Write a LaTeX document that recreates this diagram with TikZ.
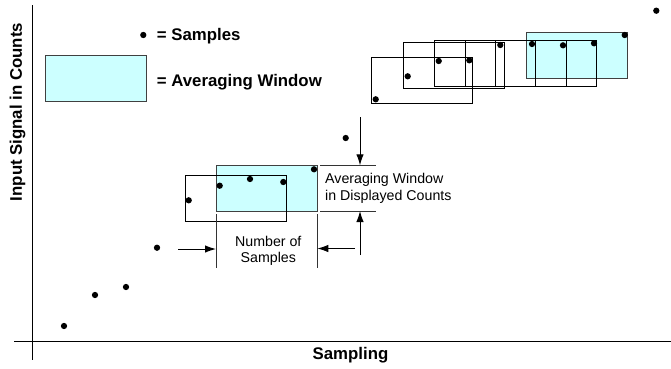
\documentclass[tikz,border=0pt]{standalone}
\usepackage{fontspec}
\setmainfont{Liberation Sans}
\usetikzlibrary{arrows.meta}
\definecolor{wincyan}{HTML}{CCFFFF}
\begin{document}
\begin{tikzpicture}[x=1pt,y=-1pt,
  win/.style={draw=black, line width=0.9pt, minimum width=101pt, minimum height=46pt, inner sep=0pt, outer sep=0pt, anchor=north west},
  cwin/.style={win, fill=wincyan, draw=black!75},
  dot/.style={circle, fill=black, inner sep=0pt, minimum size=6.3pt},
  axis/.style={line width=1.4pt},
  dim/.style={line width=0.7pt, draw=black!80},
  arr/.style={line width=1pt, -{Latex[length=11pt,width=7.5pt]}},
  boldtxt/.style={font=\fontsize{16.8}{20}\selectfont\bfseries, inner sep=0pt},
  lbl/.style={font=\fontsize{14.2}{17}\selectfont, inner sep=0pt}
]
\useasboundingbox (0,0) rectangle (671,368);
% axes
\coordinate (yt) at (32.5,5);
\coordinate (yb) at (32.5,360);
\coordinate (xl) at (14,341.5);
\coordinate (xr) at (671,341.5);
\draw[axis] (yt) -- (yb);
\draw[axis] (xl) -- (xr);
\node[boldtxt, rotate=90] (ylab) at (17.5,112) {Input Signal in Counts};
\node[boldtxt, anchor=base] (xlab) at (350.5,359) {Sampling};
% legend
\node[dot] (ldot) at (143.3,35) {};
\node[boldtxt, anchor=base west] (lsam) at (156.7,40.5) {= Samples};
\node[cwin] (lwin) at (45,55.7) {};
\node[boldtxt, anchor=base west] (lavg) at (156.7,86) {= Averaging Window};
% lower window group
\node[cwin] (wa2) at (216,165.3) {};
\node[win] (wa1) at (185.3,175) {};
% upper window group
\node[cwin] (wb6) at (526.7,32) {};
\node[win] (wb1) at (371.7,57.3) {};
\node[win] (wb2) at (403.3,42.3) {};
\node[win] (wb3) at (434.3,40) {};
\node[win] (wb4) at (465.3,40.7) {};
\node[win] (wb5) at (495.5,40.7) {};
% samples
\foreach \i/\x/\y in {1/64/326, 2/95/295, 3/126/287, 4/157/247.7, 5/188.7/200.3,
  6/219.7/185.7, 7/250/179, 8/283.3/182, 9/314/169.3, 10/345.7/138,
  11/375.7/99.3, 12/407.7/76.3, 13/438.7/61, 14/469.3/60.3, 15/500.3/45,
  16/532/44, 17/563/45.3, 18/594/43.3, 19/624.7/35, 20/656.3/10.7}
  \node[dot] (d\i) at (\x,\y) {};
% number of samples dimension
\coordinate (nl1) at (216,214);
\coordinate (nl2) at (216,268);
\coordinate (nr1) at (317.3,214);
\coordinate (nr2) at (317.3,268);
\draw[dim] (nl1) -- (nl2);
\draw[dim] (nr1) -- (nr2);
\coordinate (al) at (178.3,249);
\coordinate (ar) at (355,248.5);
\draw[arr] (al) -- (nl1 |- al);
\draw[arr] (ar) -- (nr1 |- ar);
\node[lbl, anchor=base] (ns1) at (268.3,246.3) {Number of};
\node[lbl, anchor=base] (ns2) at (268.3,262) {Samples};
% averaging window dimension
\coordinate (ht1) at (320,165.3);
\coordinate (ht2) at (376,165.3);
\coordinate (hb1) at (320,211);
\coordinate (hb2) at (376,211);
\draw[dim] (ht1) -- (ht2);
\draw[dim] (hb1) -- (hb2);
\coordinate (vt) at (360,117);
\coordinate (vb) at (360,255);
\draw[arr] (vt) -- (vt |- ht1);
\draw[arr] (vb) -- (vb |- hb1);
\node[lbl, anchor=base west] (aw1) at (325,183.5) {Averaging Window};
\node[lbl, anchor=base west] (aw2) at (325,200.3) {in Displayed Counts};
\end{tikzpicture}
\end{document}
